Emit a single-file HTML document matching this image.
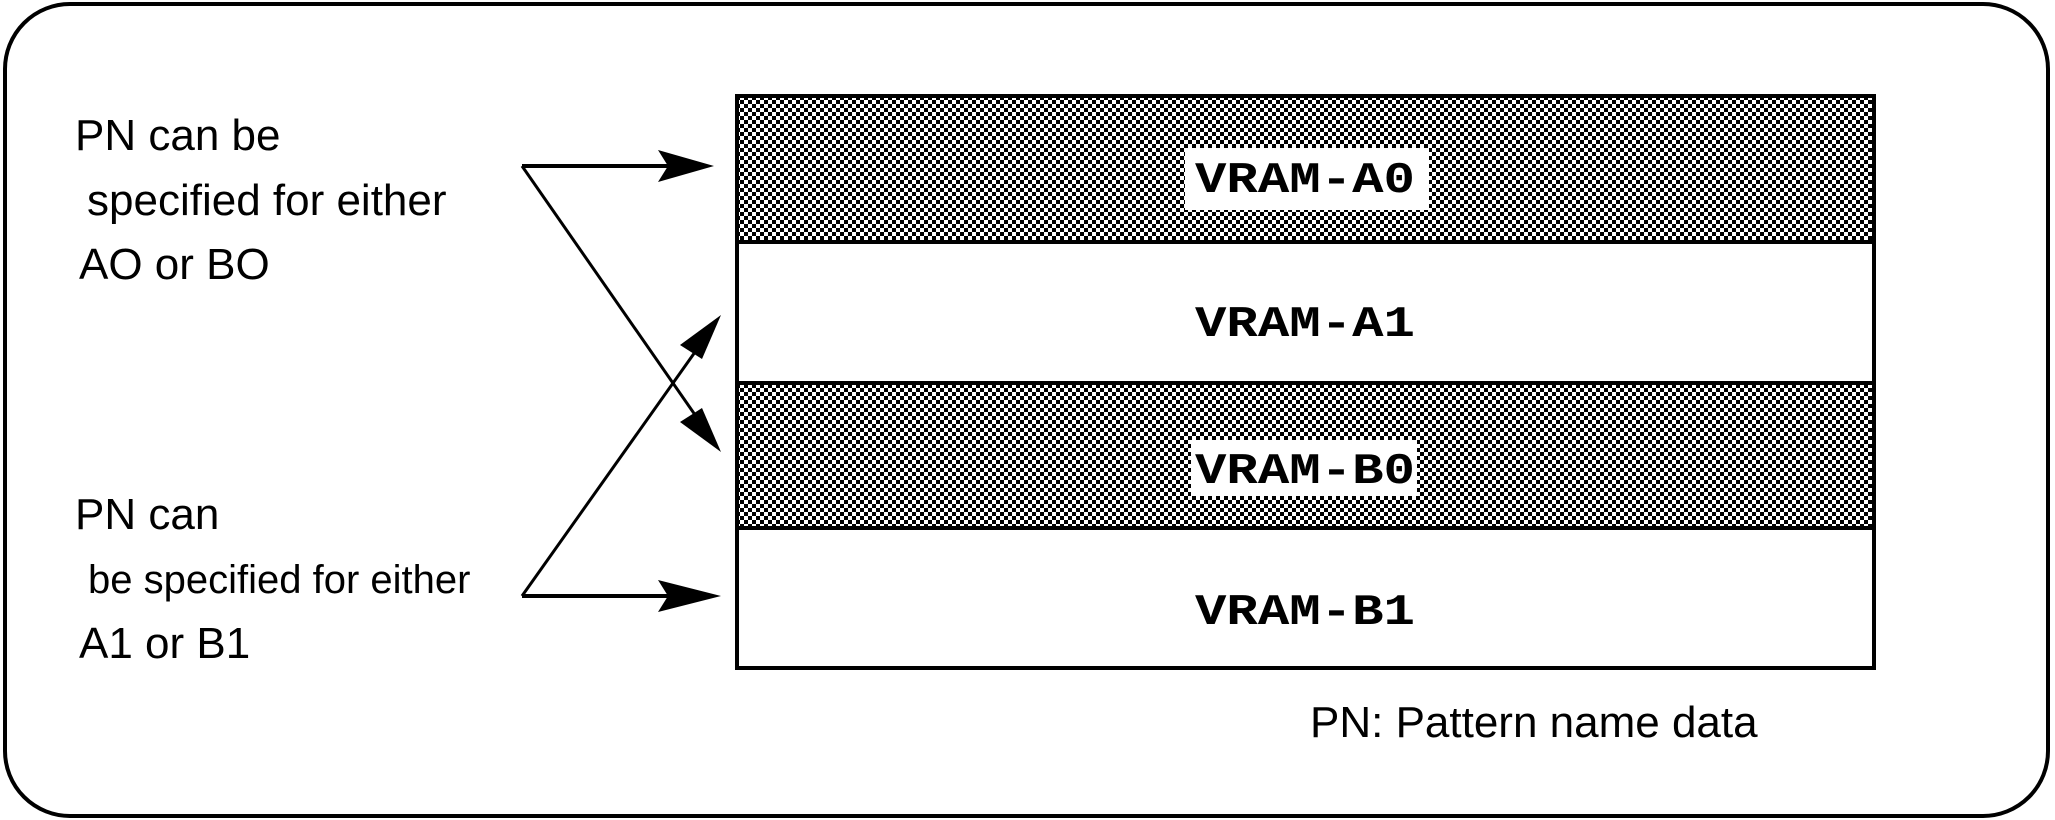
<!DOCTYPE html>
<html><head><meta charset="utf-8"><style>
html,body{margin:0;padding:0;background:#fff;}
svg{display:block;}
</style></head><body>
<svg width="2055" height="820" viewBox="0 0 2055 820" xmlns="http://www.w3.org/2000/svg">
<defs>
<pattern id="ck" width="8" height="8" patternUnits="userSpaceOnUse">
<rect width="8" height="8" fill="#fff"/>
<rect x="0" y="0" width="4" height="4" fill="#000"/>
<rect x="4" y="4" width="4" height="4" fill="#000"/>
</pattern>
</defs>
<rect x="5" y="4" width="2043" height="812" rx="65" ry="65" fill="none" stroke="#000" stroke-width="4"/>
<rect x="737" y="242" width="1137" height="141" fill="#fff"/>
<rect x="737" y="96" width="1137" height="146" fill="url(#ck)"/>
<rect x="737" y="383" width="1137" height="145" fill="url(#ck)"/>
<rect x="737" y="96" width="1137" height="572" fill="none" stroke="#000" stroke-width="4"/>
<line x1="737" y1="242" x2="1874" y2="242" stroke="#000" stroke-width="4"/>
<line x1="737" y1="383" x2="1874" y2="383" stroke="#000" stroke-width="4"/>
<line x1="737" y1="528" x2="1874" y2="528" stroke="#000" stroke-width="4"/>
<rect x="1185" y="148" width="244" height="62" fill="#fff"/>
<rect x="1191" y="440" width="226" height="56" fill="#fff"/>
<g font-family="Liberation Mono, monospace" font-weight="bold" font-size="44" text-anchor="middle">
<text x="1305" y="192" textLength="220" lengthAdjust="spacingAndGlyphs">VRAM-A0</text>
<text x="1305" y="336" textLength="220" lengthAdjust="spacingAndGlyphs">VRAM-A1</text>
<text x="1305" y="483" textLength="220" lengthAdjust="spacingAndGlyphs">VRAM-B0</text>
<text x="1305" y="624" textLength="220" lengthAdjust="spacingAndGlyphs">VRAM-B1</text>
</g>
<g stroke="#000" stroke-width="3" fill="none">
<line x1="522" y1="166" x2="680" y2="166" stroke-width="4"/>
<line x1="522" y1="596" x2="680" y2="596" stroke-width="4"/>
<line x1="522" y1="166" x2="700" y2="422"/>
<line x1="522" y1="596" x2="700" y2="345"/>
</g>
<g fill="#000">
<polygon points="658,150 714,166 658,182 668,166"/>
<polygon points="658,580 721,596 658,612 668,596"/>
<polygon points="721,452 680,422 702,408"/>
<polygon points="721,315 680,345 702,359"/>
</g>
<g font-family="Liberation Sans, sans-serif" font-size="44" fill="#000">
<text x="75" y="150">PN can be</text>
<text x="87" y="215">specified for either</text>
<text x="79" y="279">AO or BO</text>
<text x="75" y="529">PN can</text>
<text x="88" y="593" font-size="40">be specified for either</text>
<text x="79" y="658">A1 or B1</text>
<text x="1310" y="737">PN: Pattern name data</text>
</g>
</svg>
</body></html>
